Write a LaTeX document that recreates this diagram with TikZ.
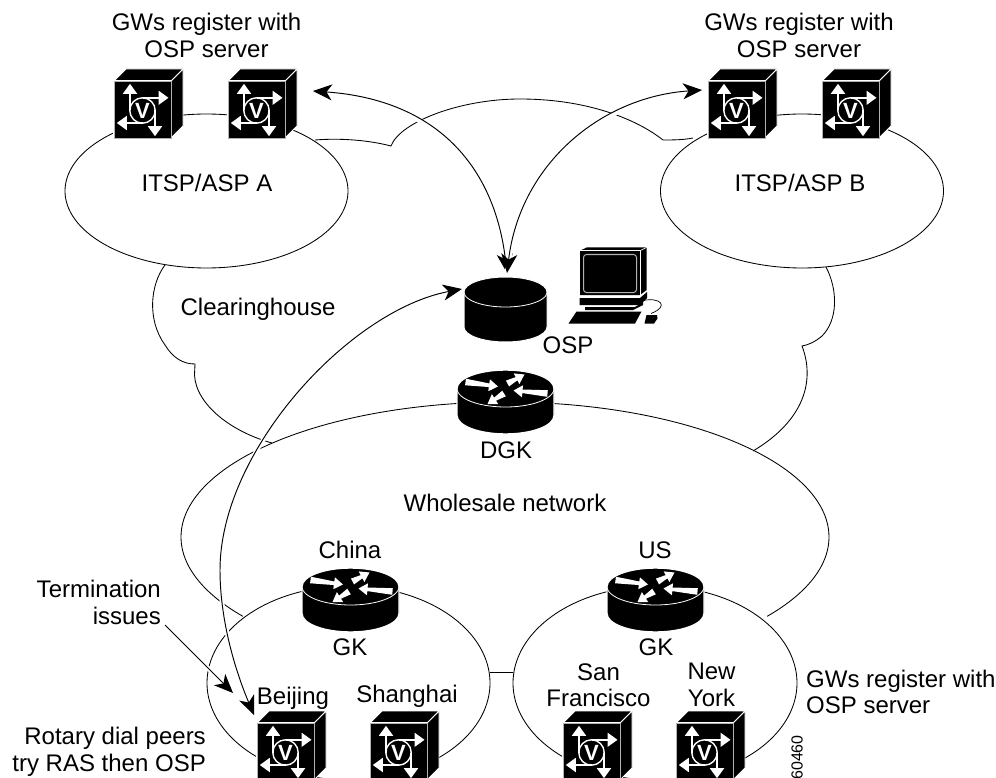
\documentclass[tikz,border=0pt]{standalone}
\usepackage{fontspec}
\setmainfont{Liberation Sans}
\usetikzlibrary{arrows.meta,calc}
\newcommand{\routerarrow}[4]{%
  \coordinate (ra) at (#1,#2);
  \coordinate (rb) at (#3,#4);
  \coordinate (rh) at ($(rb)!9pt!(ra)$);
  \fill[white] ($(ra)!3.3pt!90:(rb)$) -- ($(rh)!1.8pt!90:(rb)$) -- ($(rh)!6pt!90:(rb)$) -- (rb)
     -- ($(rh)!6pt!-90:(rb)$) -- ($(rh)!1.8pt!-90:(rb)$) -- ($(ra)!3.3pt!-90:(rb)$) -- cycle;
}
\tikzset{
  x=1pt,y=-1pt,
  lbl/.style={inner sep=0pt,font=\fontsize{24}{26.5}\selectfont,text=black},
  cloudline/.style={draw=black,line width=0.85pt},
  bigarrow/.style={draw=black,line width=0.95pt,preaction={draw=white,line width=4.5pt,-}},
  tipL/.tip={Stealth[length=19pt,width=16pt,inset=5.5pt]},
  garrow/.style={draw=white,line width=1.7pt,-{Triangle[length=10pt,width=14pt]}},
  gateway/.pic={
    \fill[black,draw=white,line width=0.8pt] (57,0) -- (69,-12) -- (69,45) -- (57,57) -- cycle;
    \fill[black,draw=white,line width=0.8pt] (0,0) -- (12,-12) -- (69,-12) -- (57,0) -- cycle;
    \fill[black,draw=white,line width=2.4pt] (0,0) rectangle (57,57);
    \fill[black] (0,0) rectangle (57,57);
    \draw[draw=gray!60,line width=0.5pt] (0,0) rectangle (57,57);
    \draw[garrow] (16,29.5) -- (16,2.8);
    \draw[garrow] (28.5,16.8) -- (54.5,16.8);
    \draw[garrow] (41,29.5) -- (41,55.2);
    \draw[garrow] (28.5,42) -- (2.8,42);
    \draw[white,line width=1.4pt] (28.5,29.5) circle[radius=12.7pt];
    \node[inner sep=0pt,text=white,font=\fontsize{22}{22}\selectfont\bfseries] (-v) at (28.5,30) {V};
  },
  router/.pic={
    \fill[black,draw=white,line width=1.4pt] (-48.5,0) arc[start angle=180,end angle=0,x radius=48.5pt,y radius=18.5pt] -- (48.5,27) arc[start angle=360,end angle=180,x radius=48.5pt,y radius=18.5pt] -- cycle;
    \draw[white,line width=0.8pt] plot[domain=180:360,samples=50] ({48.5*cos(\x)},{-18.5*sin(\x)});
    \routerarrow{-40}{-6.5}{-7.5}{-2}
    \routerarrow{42}{5}{8}{2}
    \routerarrow{2}{-5}{19}{-14}
    \routerarrow{-1.5}{5}{-18}{15.5}
  },
  computer/.pic={
    \fill[black] (580,250.7) -- (587,247.3) -- (646.7,247.3) -- (646.7,290) -- (640,295) -- (580,295) -- cycle;
    \draw[white,line width=0.6pt] (640,250.7) -- (646.7,247.3);
    \draw[white,line width=0.6pt] (580,250.7) -- (640,250.7) -- (640,295);
    \draw[gray!60,line width=1pt,rounded corners=3pt] (583.5,254.5) rectangle (636.5,292.5);
    \fill[black] (579.5,298) -- (640,298) -- (647,292) -- (647,298) -- (640,305) -- (579.5,305) -- cycle;
    \fill[black] (585,307) -- (635,307) -- (643,302) -- (643,305) -- (633,310) -- (585,310) -- cycle;
    \fill[black] (576.5,311.5) -- (641.5,311.5) -- (635,323.5) -- (568.5,323.5) -- cycle;
    \fill[black] (646.5,315) -- (657,315) -- (657.5,318.5) -- (654,323.5) -- (644.5,323.5) -- cycle;
    \draw[black,line width=0.7pt] (643,300.5) .. controls (660,297) and (670,306) .. (651,313.5);
  }
}
\begin{document}
\begin{tikzpicture}
\useasboundingbox (0,0) rectangle (996,778);
\fill[white] (0,0) rectangle (996,778);
\clip (0,0) rectangle (996,778);

% clouds
\draw[cloudline] plot[domain=0:360,samples=180] ({206.5+141.5*cos(\x)},{191-77*sin(\x)});
\draw[cloudline] plot[domain=0:360,samples=180] ({802+141.5*cos(\x)},{191-77*sin(\x)});
\draw[cloudline] plot[domain=-36:216,samples=180] ({505+324*cos(\x)},{537-135*sin(\x)});
\draw[cloudline] plot[domain=0:360,samples=180] ({348.5+141.5*cos(\x)},{683-97*sin(\x)});
\draw[cloudline] plot[domain=0:360,samples=180] ({655+142*cos(\x)},{683-97*sin(\x)});
\draw[cloudline] (165,265) .. controls (150,285) and (147,320) .. (165,345) .. controls (173,358) and (183,364) .. (195,364)
  -- (194.5,375) .. controls (196,405) and (232,432) .. (272,443);
\draw[cloudline] (826,267) .. controls (838,290) and (838,320) .. (822,336) .. controls (815,342) and (808,345) .. (802,346)
  .. controls (815,380) and (805,420) .. (753,451);
\draw[cloudline] (315,140) .. controls (340,138) and (368,140) .. (391,146)
  .. controls (400,122) and (460,99) .. (520,99) .. controls (585,99) and (635,118) .. (663,140)
  .. controls (672,140) and (683,140) .. (693,138);

% named ends
\coordinate (ospTop) at (507,273);
\coordinate (ospLeft) at (462,289);
\coordinate (gwAend) at (313,91);
\coordinate (gwBend) at (702,90);
\coordinate (bjEnd) at (254,715);
\coordinate (termStart) at (165,625);
\coordinate (termEnd) at (233,693);
\coordinate (linkL) at (490,672);
\coordinate (linkR) at (513,672);

% arrows
\draw[bigarrow,{tipL}-{tipL}] (gwAend) .. controls (440,100) and (495,170) .. (ospTop);
\draw[bigarrow,{tipL}-{tipL}] (gwBend) .. controls (600,97) and (520,165) .. (ospTop);
\draw[bigarrow,{tipL}-{tipL}] (ospLeft) .. controls (350,310) and (220,450) .. (220,570) .. controls (220,620) and (235,670) .. (bjEnd);
\draw[bigarrow,-{tipL}] (termStart) -- (termEnd);
\draw[cloudline] (linkL) -- (linkR);

% gateways
\pic (gwA1) at (114,81) {gateway};
\pic (gwA2) at (228,81) {gateway};
\pic (gwB1) at (708,81) {gateway};
\pic (gwB2) at (822,81) {gateway};
\pic (gwBJ) at (257,723) {gateway};
\pic (gwSH) at (370,723) {gateway};
\pic (gwSF) at (563,723) {gateway};
\pic (gwNY) at (676,723) {gateway};

% routers
\pic (rDGK) at (505.5,388.5) {router};
\pic (rCN) at (350.5,586.5) {router};
\pic (rUS) at (655.5,586.5) {router};

% database
\fill[black,draw=white,line width=1pt] (464,292) arc[start angle=180,end angle=0,x radius=41.5pt,y radius=15pt] -- (547,327) arc[start angle=360,end angle=180,x radius=41.5pt,y radius=15pt] -- cycle;
\draw[white,line width=0.8pt] plot[domain=180:360,samples=50] ({505.5+41.5*cos(\x)},{292-15*sin(\x)});
\pic (pc) at (0,0) {computer};

% labels
\node[lbl,align=center] (t1) at (206.5,35.5) {GWs register with\\OSP server};
\node[lbl,align=center] (t2) at (799,35.5) {GWs register with\\OSP server};
\node[lbl] (t3) at (207,183) {ITSP/ASP A};
\node[lbl] (t4) at (800,183) {ITSP/ASP B};
\node[lbl] (t5) at (258,309) {Clearinghouse};
\node[lbl] (t6) at (568,345) {OSP};
\node[lbl] (t7) at (506,450) {DGK};
\node[lbl] (t8) at (505,503) {Wholesale network};
\node[lbl] (t9) at (350,550) {China};
\node[lbl] (t10) at (350,647) {GK};
\node[lbl] (t11) at (655,550) {US};
\node[lbl] (t12) at (656,647) {GK};
\node[lbl] (t13) at (293,698) {Beijing};
\node[lbl] (t14) at (407,696) {Shanghai};
\node[lbl,align=center] (t15) at (598.5,685) {San\\Francisco};
\node[lbl,align=center] (t16) at (711.5,685) {New\\York};
\node[lbl,align=right,anchor=east] (t17) at (161,602.5) {Termination\\issues};
\node[lbl,align=right,anchor=east] (t18) at (206,752) {Rotary dial peers\\try RAS then OSP};
\node[lbl,align=left,anchor=west] (t19) at (806,692) {GWs register with\\OSP server};
\node[inner sep=0pt,font=\fontsize{16}{16}\selectfont,rotate=90] (t20) at (797,757.5) {60460};
\end{tikzpicture}
\end{document}
